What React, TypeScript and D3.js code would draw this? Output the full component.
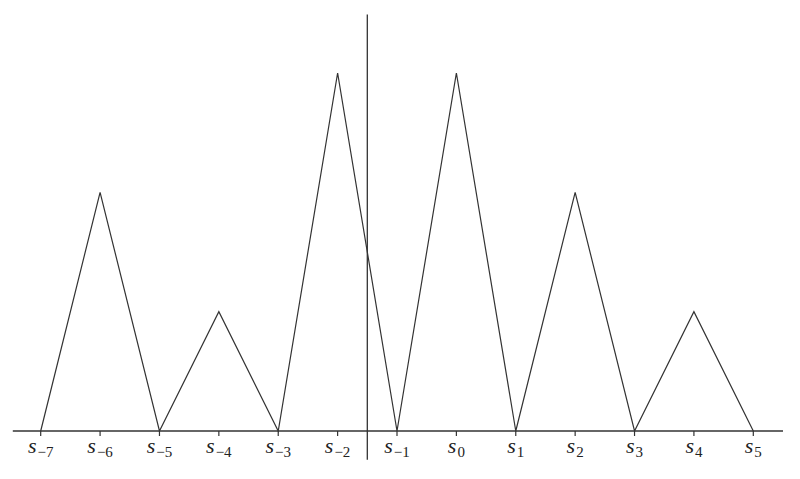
import React from 'react';
import * as d3 from 'd3';

const WIDTH = 800;
const HEIGHT = 479;

// sample indices and the hat-shaped values above them
const indices = [-7, -6, -5, -4, -3, -2, -1, 0, 1, 2, 3, 4, 5];
const values = [0, 2, 0, 1, 0, 3, 0, 3, 0, 2, 0, 1, 0];
const axisExtent = [-7.47, 5.5];
const vLineX = -1.5;
const vLineExtent = [-0.24, 3.49];

const App = () => {
  const x = d3.scaleLinear().domain([-7, 5]).range([40.7, 753.3]);
  const y = d3.scaleLinear().domain([0, 3]).range([431, 73]);

  const line = d3
    .line<number>()
    .x((_, i) => x(indices[i]))
    .y((d) => y(d));

  const stroke = '#333';

  return (
    <svg
      width={WIDTH}
      height={HEIGHT}
      style={{ position: 'absolute', left: 0, top: 0, background: '#fff' }}
    >
      {/* x axis */}
      <line
        x1={x(axisExtent[0])}
        x2={x(axisExtent[1])}
        y1={y(0)}
        y2={y(0)}
        stroke={stroke}
        strokeWidth={1.3}
      />
      {indices.map((d) => (
        <line key={d} x1={x(d)} x2={x(d)} y1={y(0)} y2={y(0) + 5} stroke={stroke} strokeWidth={1.2} />
      ))}

      {/* vertical marker */}
      <line
        x1={x(vLineX)}
        x2={x(vLineX)}
        y1={y(vLineExtent[1])}
        y2={y(vLineExtent[0])}
        stroke={stroke}
        strokeWidth={1.3}
      />

      <path d={line(values) as string} fill="none" stroke={stroke} strokeWidth={1.2} />

      {indices.map((d) => (
        <text
          key={d}
          x={x(d)}
          y={453}
          textAnchor="middle"
          fontFamily="'Liberation Serif', 'DejaVu Serif', serif"
          fill="#222"
        >
          <tspan fontStyle="italic" fontSize={22}>s</tspan>
          <tspan fontSize={15} dy={4} dx={1}>{d < 0 ? `\u2212${-d}` : `${d}`}</tspan>
        </text>
      ))}
    </svg>
  );
};

export default App;
